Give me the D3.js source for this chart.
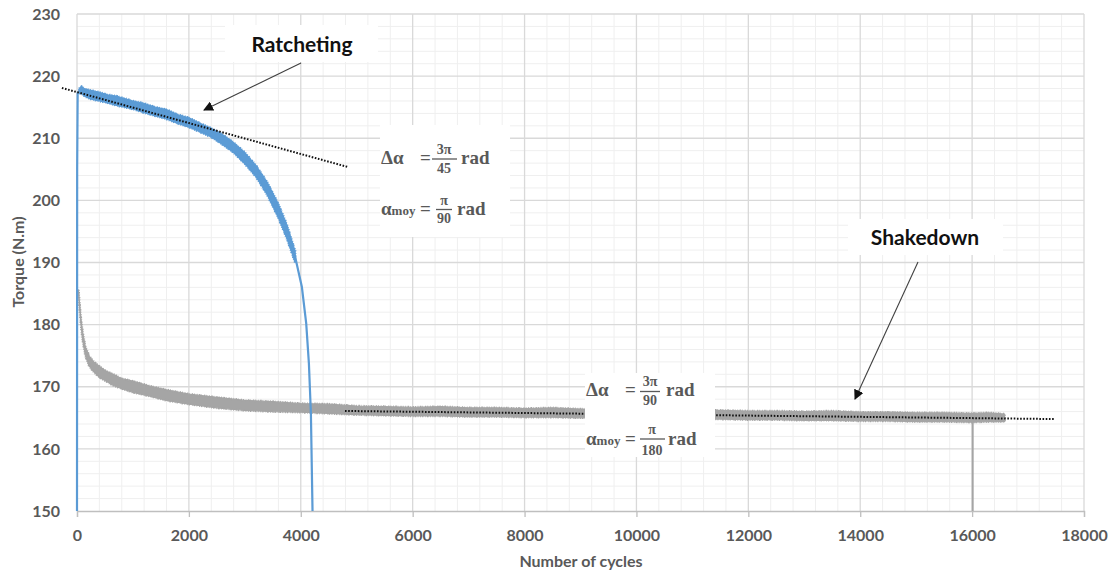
<!DOCTYPE html>
<html><head><meta charset="utf-8">
<script src="https://cdn.jsdelivr.net/npm/d3@7/dist/d3.min.js"></script>
<style>body{margin:0;background:#fff}svg{display:block}</style>
</head><body><svg id="c" width="1115" height="577"></svg>
<script>
// ---- Axis ticks ----
const xTicks = [0,2000,4000,6000,8000,10000,12000,14000,16000,18000];
const yTicks = [150,160,170,180,190,200,210,220,230];
const xTitle = "Number of cycles";
const yTitle = "Torque (N.m)";

// ---- Shakedown series (gray): noisy band envelope ----
const grayX = [25,45,70,100,150,220,300,400,500,650,800,1000,1300,1600,2000,2500,3000,3500,4000,4500,5000,5500,6000,6500,7000,7500,8000,8500,9000,9500,10000,10500,11000,11500,12000,12500,13000,13500,14000,14500,15000,15500,16000,16300,16580];
const grayUpper = [185.6,183.5,180.9,178.8,176.4,174.9,174.0,173.3,172.6,172.0,171.3,170.9,170.1,169.5,168.8,168.3,167.8,167.6,167.3,167.2,166.9,166.8,166.7,166.8,166.6,166.6,166.5,166.6,166.4,166.4,166.3,166.3,166.2,166.2,166.1,166.1,166.0,166.1,165.9,165.9,165.8,165.8,165.7,165.8,165.6];
const grayLower = [185.2,182.9,180.1,177.6,175.0,173.3,172.4,171.5,171.0,170.2,169.7,169.1,168.5,167.8,167.2,166.6,166.2,166.0,165.9,165.7,165.5,165.4,165.3,165.3,165.2,165.2,165.1,165.1,165.0,165.0,164.9,164.9,164.8,164.8,164.7,164.7,164.6,164.6,164.5,164.5,164.4,164.4,164.3,164.4,164.4];
const graySpikeX = [16010,16010];
const graySpikeY = [165.0,150];

// ---- Ratcheting series (blue) ----
const blueLineX = [0,3,12,40,80,150,250,400,550,700,850,1000,1200,1400,1600,1800,2000,2200,2400,2600,2800,3000,3200,3400,3600,3750,3900,4019,4097,4145,4181,4210];
const blueLineY = [150,205,217.3,217.6,217.8,217.3,217.0,216.7,216.4,216.0,215.7,215.4,214.8,214.3,213.8,213.1,212.5,211.7,210.9,209.8,208.5,206.8,204.7,201.9,198.3,195.0,190.9,186.1,180.2,173.8,165.7,150];
const blueBandX = [40,80,150,250,400,550,700,850,1000,1200,1400,1600,1800,2000,2200,2400,2600,2800,3000,3200,3400,3600,3750,3900];
const blueUpper = [218.0,218.3,217.9,217.7,217.4,217.0,216.8,216.4,216.0,215.6,215.0,214.6,213.8,213.3,212.4,211.6,210.6,209.3,207.7,205.6,202.9,199.4,196.1,191.8];
const blueLower = [217.2,217.2,216.7,216.3,216.0,215.7,215.3,215.0,214.7,214.1,213.6,213.1,212.4,211.8,211.0,210.2,209.0,207.7,205.9,203.8,200.9,197.2,193.9,190.0];

// ---- Linear trend lines (dotted) ----
const trendRatchetX = [-270,4830];
const trendRatchetY = [218.1,205.4];
const trendShakeX = [4790,17460];
const trendShakeY = [166.1,164.8];

const svg = d3.select("#c");
const x = d3.scaleLinear().domain([0,18000]).range([77,1084]);
const y = d3.scaleLinear().domain([150,230]).range([511,14]);

const textCol = "#595959";
const sans = "Lato, 'Open Sans', sans-serif";
const noiseDash = "0.8,1.4,1.6,0.9,0.6,2.1,1.2,1.1,0.9,1.7";

// grid minor
const gMinor = svg.append("g");
gMinor.selectAll("line.vx").data(d3.range(0,18001,400).filter(v=>v%2000!==0)).join("line")
  .attr("x1",d=>x(d)).attr("x2",d=>x(d)).attr("y1",y(150)).attr("y2",y(230))
  .attr("stroke","#efefef").attr("stroke-width",1);
gMinor.selectAll("line.hy").data(d3.range(150,231,2).filter(v=>v%10!==0)).join("line")
  .attr("x1",x(0)).attr("x2",x(18000)).attr("y1",d=>y(d)).attr("y2",d=>y(d))
  .attr("stroke","#efefef").attr("stroke-width",1);
// grid major
const gMajor = svg.append("g");
gMajor.selectAll("line.v").data(xTicks).join("line")
  .attr("x1",d=>x(d)).attr("x2",d=>x(d)).attr("y1",y(150)).attr("y2",y(230))
  .attr("stroke","#d9d9d9").attr("stroke-width",1.3);
gMajor.selectAll("line.h").data(yTicks.filter(v=>v!==150)).join("line")
  .attr("x1",x(0)).attr("x2",x(18000)).attr("y1",d=>y(d)).attr("y2",d=>y(d))
  .attr("stroke","#d9d9d9").attr("stroke-width",1.3);

// x axis
const xAxis = d3.axisBottom(x).tickValues(xTicks).tickSize(6).tickPadding(13).tickFormat(d3.format("d"));
const gx = svg.append("g").attr("transform",`translate(0,${y(150)})`).call(xAxis);
gx.select(".domain").attr("stroke","#bfbfbf").attr("stroke-width",1.3);
gx.selectAll(".tick line").attr("stroke","#bfbfbf").attr("stroke-width",1.3);
gx.selectAll("text").attr("fill",textCol).attr("font-family",sans).attr("font-weight","bold").attr("font-size",16);

// y axis (labels only)
const yAxis = d3.axisLeft(y).tickValues(yTicks).tickSize(0).tickPadding(17);
const gy = svg.append("g").attr("transform",`translate(${x(0)},0)`).call(yAxis);
gy.select(".domain").remove();
gy.selectAll("text").attr("fill",textCol).attr("font-family",sans).attr("font-weight","bold").attr("font-size",16);

// axis titles
svg.append("text").attr("x",581).attr("y",567).attr("text-anchor","middle")
  .attr("fill",textCol).attr("font-family",sans).attr("font-weight","bold").attr("font-size",16).text(xTitle);
svg.append("text").attr("transform","translate(24,262) rotate(-90)").attr("text-anchor","middle")
  .attr("fill",textCol).attr("font-family",sans).attr("font-weight","bold").attr("font-size",16).text(yTitle);

// gray series
const grayCol = "#a5a5a5";
const grayArea = d3.area().x((d,i)=>x(grayX[i])).y0((d,i)=>y(grayLower[i])).y1((d,i)=>y(grayUpper[i])).curve(d3.curveLinear);
svg.append("path").attr("d",grayArea(grayX)).attr("fill",grayCol).attr("stroke",grayCol).attr("stroke-width",1.2).attr("stroke-linejoin","round");
svg.append("path").attr("d",grayArea(grayX)).attr("fill","none").attr("stroke",grayCol).attr("stroke-width",2.6).attr("stroke-dasharray",noiseDash);
svg.append("path").attr("d",d3.line().x((d,i)=>x(graySpikeX[i])).y((d,i)=>y(graySpikeY[i]))(graySpikeX))
  .attr("stroke",grayCol).attr("stroke-width",2).attr("fill","none");

// blue series
const blueCol = "#5b9bd5";
svg.append("path").attr("d",d3.line().x((d,i)=>x(blueLineX[i])).y((d,i)=>y(blueLineY[i]))(blueLineX))
  .attr("stroke",blueCol).attr("stroke-width",2.2).attr("fill","none").attr("stroke-linejoin","round");
const blueArea = d3.area().x((d,i)=>x(blueBandX[i])).y0((d,i)=>y(blueLower[i])).y1((d,i)=>y(blueUpper[i]));
svg.append("path").attr("d",blueArea(blueBandX)).attr("fill",blueCol).attr("stroke",blueCol).attr("stroke-width",1.2).attr("stroke-linejoin","round");
svg.append("path").attr("d",blueArea(blueBandX)).attr("fill","none").attr("stroke",blueCol).attr("stroke-width",2.6).attr("stroke-dasharray",noiseDash);

// trend lines
function trend(xs,ys){
  svg.append("path").attr("d",d3.line().x((d,i)=>x(xs[i])).y((d,i)=>y(ys[i]))(xs))
    .attr("stroke","#111").attr("stroke-width",2).attr("stroke-dasharray","1.6,1.6").attr("fill","none");
}
trend(trendRatchetX,trendRatchetY);
trend(trendShakeX,trendShakeY);

// annotation boxes & arrows
const defs = svg.append("defs");
defs.append("marker").attr("id","arr").attr("viewBox","0 0 10 10").attr("refX",9).attr("refY",5)
  .attr("markerWidth",10).attr("markerHeight",10).attr("markerUnits","userSpaceOnUse").attr("orient","auto")
  .append("path").attr("d","M0,0 L10,5 L0,10 z").attr("fill","#111");

function label(bx,by,bw,bh,txt,tx,ty,ax1,ay1,ax2,ay2){
  svg.append("rect").attr("x",bx).attr("y",by).attr("width",bw).attr("height",bh).attr("fill","#fff");
  svg.append("text").attr("x",tx).attr("y",ty).attr("text-anchor","middle").attr("fill","#111")
    .attr("font-family",sans).attr("font-weight","bold").attr("font-size",21).text(txt);
  svg.append("line").attr("x1",ax1).attr("y1",ay1).attr("x2",ax2).attr("y2",ay2)
    .attr("stroke","#404040").attr("stroke-width",1.1).attr("marker-end","url(#arr)");
}
label(225,25,153,37,"Ratcheting",302,52,301,63,204,110);
label(848,219,155,36,"Shakedown",925,245,918,262,855,399);

// formula boxes
const serif = "'Liberation Serif','DejaVu Serif',serif";
function formula(bx,by,bw,bh,l1,l2){
  svg.append("rect").attr("x",bx).attr("y",by).attr("width",bw).attr("height",bh).attr("fill","#fff");
  const g = svg.append("g").attr("fill",textCol).attr("font-family",serif).attr("font-weight","bold");
  [l1,l2].forEach((L,k)=>{
    const t = g.append("text").attr("x",L.x).attr("y",L.base).attr("font-size",19);
    if(k===0){ t.text("Δα"); }
    else { t.append("tspan").text("α"); t.append("tspan").attr("font-size",13).text("moy"); }
    g.append("text").attr("x",L.eq).attr("y",L.base).attr("font-size",19).text("=");
    g.append("text").attr("x",L.fc).attr("y",L.nb).attr("text-anchor","middle").attr("font-size",14).text(L.num);
    g.append("text").attr("x",L.fc).attr("y",L.db).attr("text-anchor","middle").attr("font-size",14).text(L.den);
    g.append("line").attr("x1",L.b1).attr("x2",L.b2).attr("y1",L.by).attr("y2",L.by).attr("stroke",textCol).attr("stroke-width",1.3);
    g.append("text").attr("x",L.rx).attr("y",L.base).attr("font-size",19).text("rad");
  });
}
formula(380,125,130,112,
  {x:381,base:164,eq:420,fc:444,nb:154,db:173,num:"3π",den:"45",b1:432,b2:457,by:159,rx:461},
  {x:381,base:215,eq:420,fc:444,nb:205,db:223,num:"π",den:"90",b1:436,b2:452,by:209.5,rx:457});
formula(585,373,130,84,
  {x:586,base:396,eq:625,fc:650,nb:386,db:405,num:"3π",den:"90",b1:640,b2:660,by:391.5,rx:666},
  {x:586,base:445,eq:625,fc:652,nb:434,db:455,num:"π",den:"180",b1:640,b2:665,by:439,rx:668});
</script></body></html>
